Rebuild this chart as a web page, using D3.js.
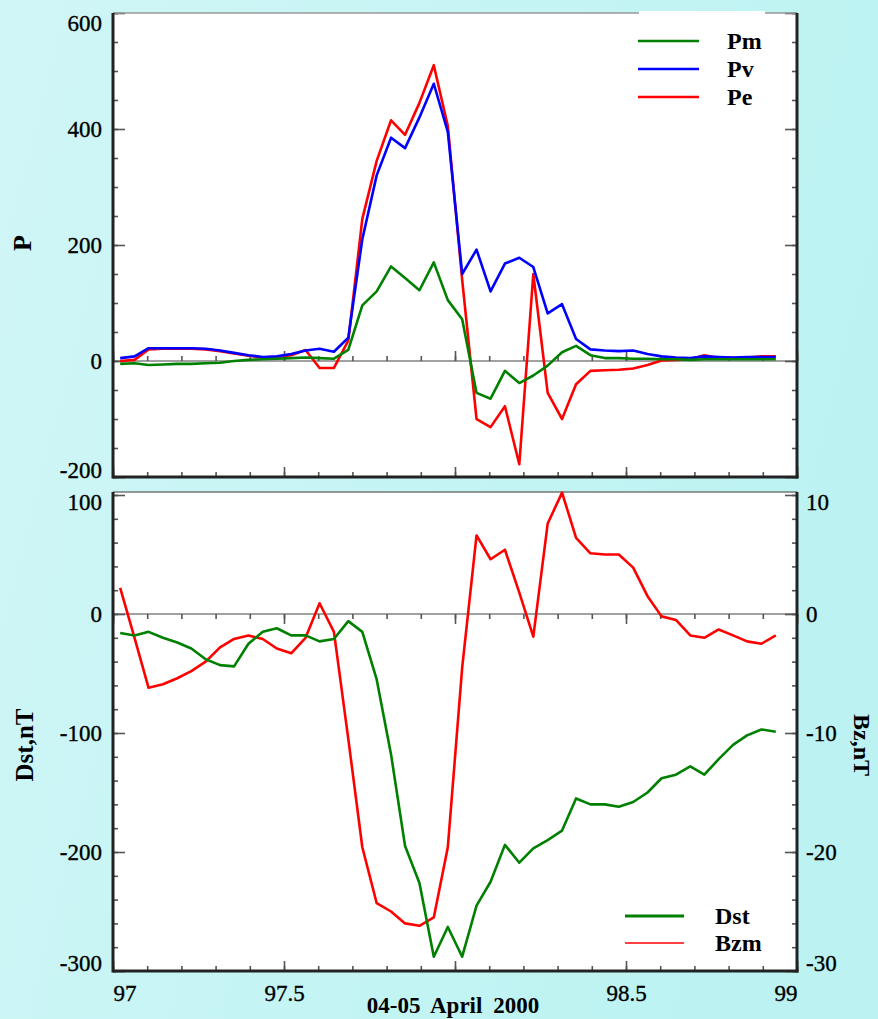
<!DOCTYPE html>
<html><head><meta charset="utf-8">
<script src="https://cdn.jsdelivr.net/npm/d3@7"></script>
<style>body{margin:0;background:#c8f4f4}svg{display:block}</style>
</head><body>
<svg id="c" width="878" height="1019"></svg>
<script>
// ---- data (day of year 2000, hourly values) ----
const dayOfYear = [97.021,97.063,97.104,97.146,97.188,97.229,97.271,97.313,97.354,97.396,
  97.438,97.479,97.521,97.563,97.604,97.646,97.688,97.729,97.771,97.813,
  97.854,97.896,97.938,97.979,98.021,98.063,98.104,98.146,98.188,98.229,
  98.271,98.313,98.354,98.396,98.438,98.479,98.521,98.563,98.604,98.646,
  98.688,98.729,98.771,98.813,98.854,98.896,98.938];
const Pm = [-5,-4,-7,-6,-5,-5,-4,-3,0,2, 3,4,5,6,5,4,19,96,120,163,
  143,122,170,105,72,-55,-65,-17,-38,-25, -8,15,26,10,5,5,4,4,3,3, 2,3,3,3,3,3,3];
const Pv = [5,8,22,22,22,22,21,18,14,10, 7,8,12,18,21,16,40,210,320,385,
  367,420,478,395,150,192,120,168,178,162, 82,98,38,20,18,17,18,12,8,6, 5,8,7,6,7,7,7];
const Pe = [0,2,20,21,21,21,20,17,13,9, 6,7,10,19,-12,-12,35,245,345,415,
  390,445,510,405,140,-100,-114,-78,-178,150, -55,-100,-40,-17,-16,-15,-13,-7,1,2, 3,10,5,5,6,8,8];
const Dst = [-16,-18,-15,-20,-24,-29,-38,-43,-44,-25, -15,-12,-18,-18,-23,-21,-6,-15,-55,-118,
  -195,-226,-288,-263,-288,-245,-225,-194,-209,-197, -190,-182,-155,-160,-160,-162,-158,-150,-138,-135,
  -128,-135,-122,-110,-102,-97,-99];
const Bzm = [2.2,-2.0,-6.2,-5.9,-5.4,-4.8,-4.0,-2.8,-2.1,-1.8, -2.1,-2.9,-3.3,-2.0,0.9,-1.5,-10.5,-19.6,-24.3,-25.0,
  -26.0,-26.2,-25.5,-19.6,-4.5,6.6,4.6,5.4,1.8,-1.9, 7.6,10.2,6.4,5.1,5.0,5.0,3.9,1.5,-0.2,-0.5,
  -1.8,-2.0,-1.3,-1.8,-2.3,-2.5,-1.8];
const pTicks = [-200,0,200,400,600];
const dstTicks = [-300,-200,-100,0,100];
const bzTicks = [-30,-20,-10,0,10];
const xLabelValues = [97,97.5,98.5,99];
const xLabels = ["97","97.5","98.5","99"];
const topSeries = [{name:"Pe",vals:Pe,color:"#ff0000"},{name:"Pv",vals:Pv,color:"#0000ff"},{name:"Pm",vals:Pm,color:"#008000"}];
const topLegend = ["Pm","Pv","Pe"];
const topLegendColors = ["#008000","#0000ff","#ff0000"];

// ---- drawing ----
const W=878,H=1019;
const svg=d3.select("#c");
const defs=svg.append("defs");
const gr=defs.append("linearGradient").attr("id","bg").attr("x1",0).attr("y1",0).attr("x2",1).attr("y2",0.3);
gr.append("stop").attr("offset",0).attr("stop-color","#d1f6f7");
gr.append("stop").attr("offset",1).attr("stop-color","#bcf3f2");
svg.append("rect").attr("width",W).attr("height",H).attr("fill","url(#bg)");

const L=113,R=797,top1=13,bot1=477,top2=492,bot2=971;
const x=d3.scaleLinear().domain([97,99]).range([L,R]);
const yP=d3.scaleLinear().domain([-200,600]).range([bot1,top1]);
const yD=d3.scaleLinear().domain([-300,100]).range([bot2,495]);
const yB=d3.scaleLinear().domain([-30,10]).range([bot2,495]);

svg.append("rect").attr("x",L).attr("y",top1).attr("width",R-L).attr("height",bot1-top1).attr("fill","#fff");
svg.append("rect").attr("x",L).attr("y",top2).attr("width",R-L).attr("height",bot2-top2).attr("fill","#fff");

const SERIF="'Liberation Serif','Times New Roman',serif";
function styleAxis(sel){
  sel.select(".domain").remove();
  sel.attr("font-family",null).attr("font-size",null);
  sel.selectAll(".tick line").attr("stroke","#555").attr("stroke-width",1.6);
  sel.selectAll(".tick text").attr("font-family",SERIF).attr("font-size",23).attr("fill","#000")
    .attr("stroke","#000").attr("stroke-width",0.35);
}
const fmt=d=>String(d);
const xMinor=d3.range(970,991,1).map(v=>v/10);
const xMajor=[97,97.5,98,98.5,99];

function hAxis(yPos,dir){ // dir -1 up, +1 down
  svg.append("g").attr("transform",`translate(0,${yPos})`)
    .call(d3.axisBottom(x).tickValues(xMinor).tickSize(dir*5).tickFormat("")).call(styleAxis);
  svg.append("g").attr("transform",`translate(0,${yPos})`)
    .call(d3.axisBottom(x).tickValues(xMajor).tickSize(dir*10).tickFormat("")).call(styleAxis);
}
function vAxis(scale,xPos,side,majors,minors,labels,pad){
  const mk=side==="left"?d3.axisLeft:d3.axisRight;
  svg.append("g").attr("transform",`translate(${xPos},0)`)
    .call(mk(scale).tickValues(minors).tickSize(-5).tickFormat("")).call(styleAxis);
  const g=svg.append("g").attr("transform",`translate(${xPos},0)`)
    .call(mk(scale).tickValues(majors).tickSize(-12).tickPadding(pad).tickFormat(labels?fmt:"")).call(styleAxis);
  return g;
}
function clampLabels(g,shiftTop,shiftBot){
  const t=g.selectAll(".tick text");
  const n=t.size();
  t.each(function(d,i){
    if(i===0) d3.select(this).attr("transform",`translate(0,${shiftBot})`);
    if(i===n-1) d3.select(this).attr("transform",`translate(0,${shiftTop})`);
  });
}

// zero lines
svg.append("line").attr("x1",L).attr("x2",R).attr("y1",yP(0)).attr("y2",yP(0)).attr("stroke","#444").attr("stroke-width",1.2);
svg.append("line").attr("x1",L).attr("x2",R).attr("y1",yD(0)).attr("y2",yD(0)).attr("stroke","#444").attr("stroke-width",1.2);
hAxis(yP(0),-1); hAxis(bot1,-1);
hAxis(yD(0),1); hAxis(bot2,-1);

// top panel axes
const gPL=vAxis(yP,L,"left",pTicks,d3.range(-200,601,50),true,11);
clampLabels(gPL,10,-7);
vAxis(yP,R,"right",pTicks,d3.range(-200,601,50),false,8);
// bottom panel axes
const gDL=vAxis(yD,L,"left",dstTicks,d3.range(-300,101,20),true,11);
clampLabels(gDL,7,-8);
const gBR=vAxis(yB,R,"right",bzTicks,d3.range(-30,11,2),true,9);
clampLabels(gBR,7,-8);

// frame lines
svg.append("line").attr("x1",L).attr("x2",R).attr("y1",top1).attr("y2",top1).attr("stroke","#999").attr("stroke-width",1.5);
svg.append("line").attr("x1",L).attr("x2",R).attr("y1",top2).attr("y2",top2).attr("stroke","#777").attr("stroke-width",1.5);
[[top1,bot1],[top2,bot2]].forEach(([a,b])=>{
  svg.append("line").attr("x1",L).attr("x2",L).attr("y1",a).attr("y2",b+1.5).attr("stroke","#222").attr("stroke-width",3);
  svg.append("line").attr("x1",R).attr("x2",R).attr("y1",a).attr("y2",b+1.5).attr("stroke","#222").attr("stroke-width",3);
  svg.append("line").attr("x1",L).attr("x2",R+1.5).attr("y1",b).attr("y2",b).attr("stroke","#222").attr("stroke-width",3);
});

// top lines
const lineP=d3.line().x((d,i)=>x(dayOfYear[i])).y(d=>yP(d));
topSeries.forEach(s=>{
  svg.append("path").attr("d",lineP(s.vals)).attr("fill","none").attr("stroke",s.color).attr("stroke-width",2.6).attr("stroke-linejoin","round");
});
// bottom lines
const lineB=d3.line().x((d,i)=>x(dayOfYear[i])).y(d=>yB(d));
const lineD=d3.line().x((d,i)=>x(dayOfYear[i])).y(d=>yD(d));
svg.append("path").attr("d",lineB(Bzm)).attr("fill","none").attr("stroke","#ff0000").attr("stroke-width",2.6).attr("stroke-linejoin","round");
svg.append("path").attr("d",lineD(Dst)).attr("fill","none").attr("stroke","#008000").attr("stroke-width",2.6).attr("stroke-linejoin","round");

// top legend
svg.append("rect").attr("x",639).attr("y",11).attr("width",126).attr("height",100).attr("fill","#fff");
topLegend.forEach((n,i)=>{
  const yy=41+i*28;
  svg.append("line").attr("x1",638).attr("x2",699).attr("y1",yy).attr("y2",yy).attr("stroke",topLegendColors[i]).attr("stroke-width",2.4);
  svg.append("text").attr("x",727).attr("y",yy+8).text(n).attr("font-family",SERIF).attr("font-weight","bold").attr("font-size",24).attr("fill","#000");
});
// bottom legend
svg.append("line").attr("x1",625).attr("x2",684).attr("y1",916).attr("y2",916).attr("stroke","#008000").attr("stroke-width",3);
svg.append("text").attr("x",715).attr("y",924).text("Dst").attr("font-family",SERIF).attr("font-weight","bold").attr("font-size",24);
svg.append("line").attr("x1",625).attr("x2",684).attr("y1",943).attr("y2",943).attr("stroke","#ff0000").attr("stroke-width",1.4);
svg.append("text").attr("x",715).attr("y",951).text("Bzm").attr("font-family",SERIF).attr("font-weight","bold").attr("font-size",24);

// x labels
const gx=svg.append("g").attr("transform",`translate(0,${bot2})`)
  .call(d3.axisBottom(x).tickValues(xLabelValues).tickSize(0).tickPadding(14).tickFormat((d,i)=>xLabels[i])).call(styleAxis);
gx.selectAll(".tick text").attr("text-anchor",(d,i)=>i===0?"start":(i===xLabels.length-1?"end":"middle"));
svg.append("text").attr("x",453).attr("y",1013).attr("text-anchor","middle").text("04-05 April 2000")
  .attr("font-family",SERIF).attr("font-weight","bold").attr("font-size",23).attr("word-spacing",5);

// axis titles
svg.append("text").attr("transform","translate(31,243) rotate(-90)").attr("text-anchor","middle").text("P")
  .attr("font-family",SERIF).attr("font-weight","bold").attr("font-size",26);
svg.append("text").attr("transform","translate(33,745) rotate(-90)").attr("text-anchor","middle").text("Dst,nT")
  .attr("font-family",SERIF).attr("font-weight","bold").attr("font-size",25);
svg.append("text").attr("transform","translate(854,745) rotate(90)").attr("text-anchor","middle").text("Bz,nT")
  .attr("font-family",SERIF).attr("font-weight","bold").attr("font-size",24);
</script>
</body></html>
